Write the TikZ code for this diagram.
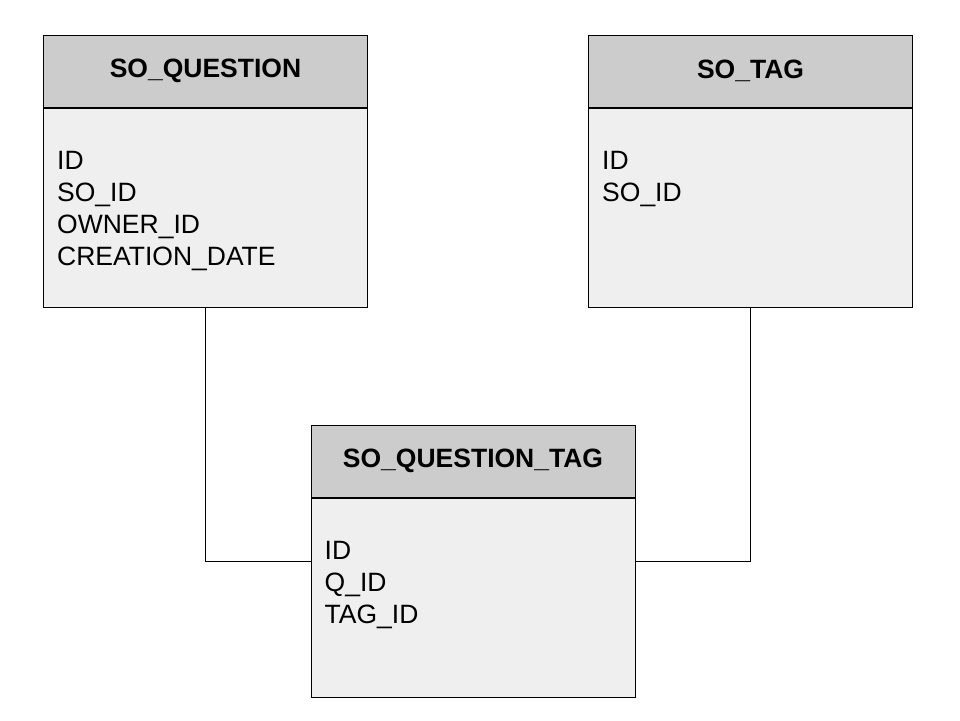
\documentclass[tikz,border=0pt]{standalone}
\usepackage{fontspec}
\setmainfont{Liberation Sans}
\usetikzlibrary{positioning,calc}
\definecolor{headgray}{HTML}{CCCCCC}
\definecolor{bodygray}{HTML}{EFEFEF}
\begin{document}
\begin{tikzpicture}[x=1pt,y=-1pt]
    \tikzset{head/.style={draw,fill=headgray,line width=1pt,minimum width=324pt,minimum height=72pt,inner sep=0pt,font=\fontsize{26.5}{30}\selectfont\bfseries},
        tablebody/.style={draw,fill=bodygray,line width=1pt,minimum width=324pt,minimum height=199pt,inner sep=0pt},
        fields/.style={anchor=north west,align=left,inner sep=0pt,font=\fontsize{26.5}{32}\selectfont},
        link/.style={draw,line width=1pt}}
    \useasboundingbox (0,0) rectangle (960,720);
    \foreach \tab/\x/\y/\title/\rows in {q/205.5/71/SO\_QUESTION/{ID\\SO\_ID\\OWNER\_ID\\CREATION\_DATE},
            t/750.5/71/SO\_TAG/{ID\\SO\_ID},
            qt/473/461/SO\_QUESTION\_TAG/{ID\\Q\_ID\\TAG\_ID}}
        {
        \node[head] (\tab-h) at (\x,\y) {\title};
        \node[tablebody,below=0pt of \tab-h] (\tab-b) {};
        \node[fields] (\tab-f) at ($(\tab-b.north west)+(14,44)$) {\rows};
        }
    \draw[link] (q-b.south) |- ($(qt-h.north west)!.5!(qt-b.south west)$);
    \draw[link] (t-b.south) |- ($(qt-h.north east)!.5!(qt-b.south east)$);
\end{tikzpicture}
\end{document}
